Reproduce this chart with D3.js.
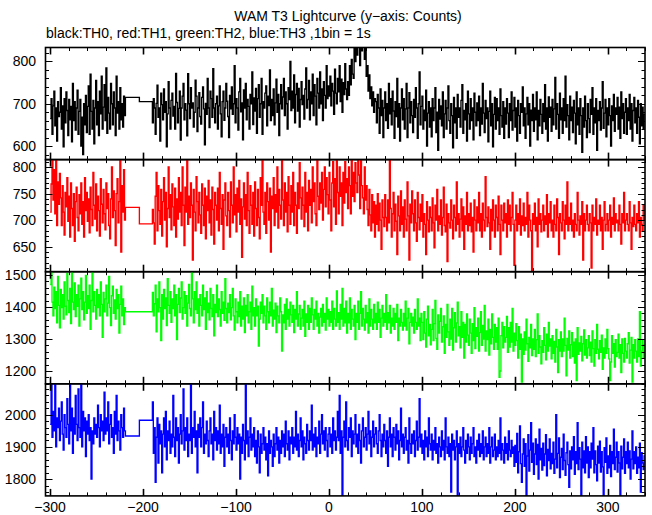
<!DOCTYPE html>
<html><head><meta charset="utf-8">
<script src="https://cdn.jsdelivr.net/npm/d3@7"></script>
<style>body{margin:0;background:#fff}svg{display:block;font-family:"Liberation Sans",Arial,Helvetica,sans-serif}</style>
</head><body><svg id="c" width="652" height="515"></svg>
<script>
// time axis of the bins (1 bin = 1 s), plus the two long bins inside the data gap
const startA = -300;
const gapStarts = [-219, -204];
const startB = -190;
const xTickValues = [-300, -200, -100, 0, 100, 200, 300];
const xTickLabels = ["\u2212300", "\u2212200", "\u2212100", "0", "100", "200", "300"];

// TH0 (black)
const th0A = [665,712,628,695,730,648,690,612,705,670,
680,738,640,695,598,712,655,728,684,625,
710,662,694,610,748,660,705,638,690,732,
628,682,710,600,668,580,700,650,720,632,
694,742,628,770,682,640,708,605,690,755,
650,705,625,730,676,765,640,692,745,660,
785,630,715,678,640,748,700,650,728,690,
625,765,678,705,640,738,662,700,645,718,672];
const th0Gap = [715, 705];
const th0B = [655,712,690,628,701,744,668,690,612,725,
698,662,735,680,705,598,676,752,690,640,
708,725,671,694,640,772,703,655,689,730,
614,690,718,748,662,700,685,624,771,700,
665,738,690,702,645,680,756,718,634,690,
726,670,652,715,740,688,603,701,675,760,
690,644,730,712,668,783,690,655,700,718,
640,695,742,676,622,705,730,661,690,748,
706,670,620,720,688,740,675,700,790,655,
712,690,638,728,760,681,702,615,733,690,
748,662,710,694,640,722,700,775,651,714,
683,736,630,712,745,668,700,760,628,705,
690,725,742,648,718,696,780,660,710,672,
735,650,702,758,680,722,625,700,745,688,
716,760,672,728,700,640,738,710,800,684,
730,690,768,655,722,748,683,736,645,710,
752,698,720,664,735,785,690,710,755,662,
728,700,770,672,745,718,650,760,725,690,
775,700,735,660,752,720,690,790,712,742,
718,765,695,748,730,675,782,725,700,760,
728,790,705,758,680,750,722,795,735,710,
752,720,790,745,805,770,760,840,800,860,
815,870,835,790,860,825,880,840,805,830,
765,790,730,768,712,740,695,728,680,712,
705,655,722,690,630,735,672,708,620,690,
728,660,700,642,748,676,712,650,730,683,
618,705,670,760,645,700,612,690,735,662,
712,640,688,748,620,690,726,655,705,672,
632,710,668,738,690,618,700,775,650,694,
718,640,685,660,732,600,678,705,645,690,
622,712,660,690,738,632,680,590,710,664,
695,648,728,620,676,708,640,690,742,660,
630,700,672,596,715,655,690,618,722,668,
690,645,708,745,630,684,662,700,612,730,
676,640,712,660,690,615,725,680,648,702,
660,718,625,690,652,748,678,632,708,665,
690,610,682,730,648,700,598,675,715,640,
712,660,690,628,735,672,645,705,618,690,
652,712,678,620,700,660,728,638,684,715,
645,690,612,708,672,630,700,680,740,648,
690,618,676,715,650,700,600,685,660,722,
635,690,662,728,615,684,648,710,675,630,
700,658,745,640,690,612,716,668,692,635,
710,650,688,762,640,700,675,618,725,662,
690,630,712,660,765,645,698,672,615,718,
660,692,632,708,678,605,728,650,690,628,
712,672,585,690,645,718,660,620,700,665,
632,710,675,738,628,690,655,712,590,684,
660,705,638,690,752,642,678,710,622,690,
650,712,672,600,695,660,722,635,690,675,
715,640,692,618,728,665,700,630,680,712,
628,690,660,722,640,700,612,684,715,655,
690,630,708,668,605,700,648,692,640,675];

// TH1 (red)
const th1A = [715,768,814,738,795,712,814,690,772,730,
788,742,690,765,715,672,752,725,780,698,
745,668,770,722,690,750,660,735,762,705,
680,748,712,770,692,735,668,780,718,752,
698,740,676,762,720,690,790,728,702,768,
680,745,718,670,778,730,695,758,712,682,
770,722,750,690,665,740,800,705,755,718,
652,750,778,695,735,814,640,765,715,795,700];
const th1Gap = [724, 693];
const th1B = [720,695,655,745,790,680,765,718,692,758,
670,735,780,700,752,650,722,800,705,748,
682,768,725,690,760,668,740,702,780,715,
752,690,800,728,652,762,715,814,692,745,
705,770,728,625,758,715,680,782,735,695,
752,710,675,768,728,690,760,665,745,718,
775,695,738,672,762,720,655,752,728,700,
760,680,790,722,692,748,645,738,770,708,
690,752,718,668,772,728,695,800,710,748,
678,760,715,775,692,740,630,725,770,702,
748,690,790,718,675,765,728,692,752,670,
772,722,690,758,705,665,780,728,814,715,
692,752,675,770,735,700,760,640,745,722,
780,690,748,715,800,685,758,728,702,814,
738,690,770,715,752,678,782,728,692,765,
715,790,690,752,728,675,770,722,808,742,
702,762,728,688,790,715,752,680,775,728,
758,695,800,735,770,712,690,814,745,720,
770,732,790,700,758,800,725,780,748,712,
790,738,680,770,810,725,778,692,814,752,
712,800,745,770,690,790,732,810,752,778,
722,800,765,712,814,745,790,735,808,770,
752,814,785,722,814,765,742,712,800,738,
765,720,690,758,710,680,748,695,735,668,
728,692,750,680,732,700,645,738,705,688,
748,705,680,738,695,814,722,668,712,752,
680,730,698,635,745,708,680,755,692,725,
668,738,702,680,772,708,625,730,695,755,
712,680,738,695,660,752,705,682,730,698,
748,668,712,692,635,735,700,678,725,705,
680,742,695,648,728,700,758,680,708,692,
738,672,705,762,690,678,730,622,712,695,
685,738,700,665,728,705,680,772,692,712,
668,702,740,680,725,645,708,692,752,680,
712,690,732,678,705,640,738,700,680,725,
695,752,680,712,668,732,700,680,782,705,
688,725,695,645,720,680,738,700,668,728,
705,680,745,692,635,728,700,680,732,695,
712,668,738,692,728,680,705,752,692,615,
700,728,680,712,692,740,672,708,690,732,
680,705,692,752,668,728,700,680,605,712,
692,732,680,705,650,740,692,712,678,700,
728,680,708,692,748,668,712,695,735,680,
700,668,728,692,680,740,705,635,712,695,
680,735,700,665,728,692,772,680,705,692,
732,680,700,668,712,692,680,752,700,672,
708,692,735,625,712,680,700,728,692,680,
712,695,610,728,680,705,692,740,672,700,
692,728,680,705,645,700,735,680,692,712,
680,700,728,668,705,692,742,680,712,695,
700,680,728,692,655,712,695,752,680,700,
712,692,680,735,695,645,705,688,728,692,
680,712,695,735,668,705,692,680,728,700];

// TH2 (green)
const th2A = [1470,1510,1415,1372,1462,1395,1448,1350,1495,1405,
1335,1455,1398,1438,1362,1478,1402,1375,1505,1420,
1382,1458,1348,1510,1415,1392,1475,1370,1438,1402,
1468,1340,1425,1490,1392,1448,1360,1415,1498,1380,
1435,1395,1468,1330,1420,1510,1385,1448,1405,1362,
1455,1398,1438,1372,1478,1408,1305,1445,1385,1425,
1468,1372,1412,1495,1398,1342,1435,1465,1380,1422,
1362,1455,1395,1438,1318,1408,1465,1372,1425,1345,1398];
const th2Gap = [1385, 1385];
const th2B = [1445,1372,1410,1468,1322,1425,1385,1478,1398,1295,
1438,1362,1455,1395,1428,1342,1488,1405,1380,1448,
1352,1425,1395,1468,1372,1438,1298,1408,1458,1382,
1428,1478,1362,1398,1448,1380,1435,1340,1412,1470,
1395,1372,1510,1425,1350,1448,1392,1478,1380,1425,
1340,1438,1405,1372,1468,1392,1428,1330,1448,1382,
1412,1360,1458,1395,1370,1438,1310,1408,1382,1468,
1370,1425,1392,1340,1448,1380,1415,1358,1488,1395,
1350,1412,1382,1438,1360,1398,1458,1372,1328,1425,
1385,1350,1415,1370,1448,1340,1402,1362,1428,1320,
1405,1372,1438,1350,1385,1415,1330,1465,1372,1398,
1340,1425,1372,1402,1278,1362,1415,1380,1438,1350,
1402,1372,1330,1428,1385,1350,1415,1372,1458,1340,
1390,1362,1412,1320,1402,1372,1350,1428,1385,1262,
1375,1350,1408,1330,1425,1362,1392,1340,1415,1375,
1352,1405,1320,1392,1362,1448,1340,1378,1405,1330,
1365,1392,1340,1418,1308,1378,1352,1405,1330,1395,
1352,1428,1375,1330,1392,1362,1418,1340,1380,1318,
1368,1395,1340,1408,1352,1380,1328,1428,1362,1392,
1340,1385,1352,1418,1330,1395,1362,1340,1450,1352,
1382,1330,1408,1362,1458,1340,1395,1350,1418,1318,
1380,1350,1428,1330,1392,1362,1340,1405,1298,1380,
1352,1418,1330,1380,1448,1340,1395,1362,1328,1405,
1350,1382,1318,1425,1340,1392,1362,1330,1408,1350,
1380,1330,1415,1352,1392,1305,1365,1405,1340,1380,
1352,1438,1330,1382,1350,1405,1318,1365,1340,1395,
1330,1380,1352,1408,1295,1365,1340,1392,1352,1328,
1380,1340,1418,1328,1365,1395,1285,1352,1380,1340,
1368,1318,1392,1352,1330,1425,1340,1365,1295,1380,
1352,1298,1385,1318,1275,1362,1402,1310,1345,1282,
1330,1392,1295,1348,1420,1302,1268,1375,1318,1355,
1395,1290,1338,1372,1255,1345,1305,1408,1322,1280,
1362,1300,1395,1265,1335,1382,1290,1350,1415,1310,
1338,1272,1385,1305,1352,1240,1345,1290,1378,1312,
1280,1362,1318,1255,1348,1295,1398,1270,1335,1308,
1365,1262,1320,1385,1280,1342,1300,1405,1262,1325,
1298,1362,1250,1330,1285,1378,1305,1268,1345,1290,
1335,1268,1365,1180,1200,1310,1352,1272,1338,1290,
1305,1370,1258,1335,1275,1352,1290,1395,1262,1318,
1280,1348,1295,1240,1338,1268,1315,1165,1300,1252,
1322,1265,1362,1285,1230,1305,1272,1345,1248,1300,
1268,1330,1245,1298,1378,1255,1310,1275,1222,1295,
1258,1335,1280,1235,1315,1262,1352,1278,1300,1238,
1310,1255,1292,1228,1330,1275,1195,1298,1262,1322,
1245,1300,1262,1365,1280,1185,1302,1265,1325,1240,
1282,1320,1245,1290,1225,1300,1170,1335,1252,1288,
1262,1308,1232,1285,1328,1250,1298,1240,1272,1310,
1248,1290,1228,1325,1270,1215,1298,1255,1345,1268,
1238,1295,1258,1312,1205,1272,1240,1300,1255,1330,
1270,1238,1170,1228,1310,1255,1285,1212,1298,1245,
1258,1315,1240,1282,1195,1300,1255,1228,1302,1262,
1240,1285,1320,1225,1265,1305,1165,1282,1240,1298,
1262,1228,1300,1245,1385,1215,1262,1298,1240,1282];

// TH3 (blue)
const th3A = [1970,2096,1930,2010,1950,2096,1900,1990,1960,2020,
1920,1980,2040,1940,1890,2000,1960,1930,2050,1970,
1910,2096,1950,2020,1880,1990,1940,2060,1970,1920,
2080,1960,1930,2096,1900,2010,1950,1990,1870,1980,
1940,2000,1920,1960,1800,1950,1910,1990,1940,1970,
1930,2030,1960,1900,2000,1950,1980,1920,2070,1940,
1990,1950,2040,1910,1970,2000,1930,1960,1880,2010,
1940,2060,1920,1980,1950,1890,2000,1960,1930,2020,1950];
const th3Gap = [1934, 1983];
const th3B = [2040,1880,1960,1790,1930,1990,1850,1970,1910,1950,
1820,1940,1990,1900,2010,1860,1950,1920,1980,1880,
1940,1900,2060,1930,1870,1990,1920,1960,1850,1940,
2000,1910,1950,2080,1890,1960,1920,1990,1870,1940,
1920,2096,1880,1960,1930,2010,1900,1950,1820,1970,
1930,1990,1900,1960,2040,1880,1940,1910,1980,1920,
1870,1950,1990,1910,1940,1860,2010,1920,1960,1890,
1950,1910,2030,1880,1940,1900,1970,1840,1930,1960,
1900,1940,1880,1990,1920,1860,1950,1910,2000,1930,
1890,1960,1910,1940,1800,1930,1880,1970,1920,1860,
2096,1910,1950,1870,1930,1990,1890,1940,1900,1960,
1870,1920,1850,1950,1900,1820,1940,1880,1910,1960,
1890,1930,1860,1910,1810,1950,1880,1920,1900,1840,
1940,1870,1910,1960,1890,1930,1850,1920,1880,1950,
1900,1940,1870,1980,1910,1890,1950,1860,1930,1910,
1960,1880,1930,1900,2010,1890,1940,1870,1920,1990,
1900,1950,1860,1930,1910,1880,1970,1920,1890,1950,
1920,2030,1890,1940,1900,1960,1870,1930,1910,1980,
1880,1940,2000,1910,1950,1890,1960,1920,1870,1940,
1960,1900,1940,1880,1990,1920,1950,1890,1930,2010,
1920,2060,1880,1950,1750,1930,1980,1900,2040,1920,
1890,1960,1930,1990,1870,1950,1910,1940,2000,1900,
1940,1880,1970,1920,1850,1950,1990,1900,1930,1960,
1890,1940,2010,1910,1950,1870,1930,1980,1900,1940,
1960,1910,1880,1950,2000,1920,1870,1940,1900,1970,
1920,1880,1950,1840,1930,1990,1900,1940,1870,1960,
1930,1890,1970,1910,1950,1860,1920,2020,1900,1940,
1880,1930,1960,1890,1920,1850,1990,1910,1880,1940,
1910,1950,1870,1920,1980,1890,1930,2050,1900,1940,
1880,1920,1860,1950,1900,1930,1870,1990,1910,1890,
1940,1860,1920,1890,1960,1880,1910,1850,1930,1900,
1870,1950,1890,1920,1860,1990,1900,1880,1930,1870,
1910,1760,1940,1890,1920,1860,1900,1950,1750,1910,
1880,1930,1870,1900,1960,1890,1850,1920,1880,1940,
1900,1860,1930,1880,1910,1960,1870,1900,1850,1920,
1890,1940,1870,1910,1880,1950,1860,1900,1930,1870,
1910,1880,1960,1850,1900,1930,1870,1890,1940,1860,
1900,1870,1920,1880,1990,1860,1910,1890,1850,1930,
1880,1910,1860,1950,1890,1870,1920,1880,1900,1840,
1905,1852,1942,1820,1885,1965,1848,1790,1878,1925,
1840,1910,1750,1872,1938,1825,1890,1975,1852,1912,
1815,1878,1925,1845,1908,1800,1955,1860,1895,1828,
1912,1842,1878,1938,1810,1892,1858,1925,1832,1880,
1848,1915,1818,1862,2000,1835,1880,1928,1805,1868,
1895,1830,1940,1858,1812,1882,1915,1845,1775,1888,
1832,1900,1860,1932,1815,1885,1848,1975,1830,1898,
1862,1750,1915,1835,1888,1820,1932,1850,1900,1805,
1885,1835,1912,1862,1960,1820,1888,1845,1795,1902,
1850,1918,1822,1885,1838,1750,1898,1852,1928,1818,
1872,1835,1905,1808,1885,1848,1955,1830,1868,1915,
1822,1885,1850,1750,1902,1832,1868,1925,1818,1885,
1848,1915,1835,1888,1800,1862,1950,1832,1885,1848,
1900,1818,1868,1835,1912,1760,1882,1850,1830,1872];

const yTicks0 = [600, 700, 800];
const yTicks1 = [650, 700, 750, 800];
const yTicks2 = [1200, 1300, 1400, 1500];
const yTicks3 = [1800, 1900, 2000];

const titleText = "WAM T3 Lightcurve (y\u2212axis: Counts)";
const subtitleText = "black:TH0, red:TH1, green:TH2, blue:TH3 ,1bin = 1s";

// ---------- layout ----------
const svg = d3.select("#c");
const left = 45.5, right = 645, top0 = 47.5, ph = 112.1;
const x = d3.scaleLinear().domain([-305, 340]).range([left, right]);

const panels = [
  {A: th0A, G: th0Gap, B: th0B, color: "#000000", dom: [568, 833], major: yTicks0, minor: 20},
  {A: th1A, G: th1Gap, B: th1B, color: "#ff0000", dom: [603, 814], major: yTicks1, minor: 10},
  {A: th2A, G: th2Gap, B: th2B, color: "#00ff00", dom: [1160, 1510], major: yTicks2, minor: 20},
  {A: th3A, G: th3Gap, B: th3B, color: "#0000ff", dom: [1748, 2096], major: yTicks3, minor: 20}
];

function buildSeries(p) {
  const pts = [];
  p.A.forEach((v, i) => pts.push([startA + i, v]));
  p.G.forEach((v, i) => pts.push([gapStarts[i], v]));
  p.B.forEach((v, i) => pts.push([startB + i, v]));
  pts.push([startB + p.B.length, p.B[p.B.length - 1]]);
  return pts;
}

const defs = svg.append("defs");
const xMinor = d3.range(-300, 341, 20);

panels.forEach((p, k) => {
  const y0 = top0 + k * ph, y1 = y0 + ph;
  const y = d3.scaleLinear().domain(p.dom).range([y1, y0]);
  defs.append("clipPath").attr("id", "cp" + k).append("rect")
    .attr("x", left).attr("y", y0).attr("width", right - left).attr("height", ph);

  const line = d3.line().x(d => x(d[0])).y(d => y(d[1])).curve(d3.curveStepAfter);
  svg.append("path").datum(buildSeries(p))
    .attr("clip-path", "url(#cp" + k + ")")
    .attr("fill", "none").attr("stroke", p.color).attr("stroke-width", 1.35)
    .attr("d", line);

  const g = svg.append("g").attr("stroke", "#000").attr("fill", "none");
  const yMin = d3.range(Math.ceil(p.dom[0] / p.minor) * p.minor, p.dom[1] + 0.01, p.minor);
  yMin.forEach(v => {
    const isMaj = p.major.includes(v);
    const len = isMaj ? 7 : 3.5;
    const yy = Math.round(y(v)) + 0.5;
    g.append("line").attr("x1", left).attr("x2", left + len).attr("y1", yy).attr("y2", yy).attr("stroke-width", 1);
    g.append("line").attr("x1", right).attr("x2", right - len).attr("y1", yy).attr("y2", yy).attr("stroke-width", 1);
  });
  xMinor.forEach(v => {
    const isMaj = xTickValues.includes(v);
    const len = isMaj ? 7 : 3.5;
    const xx = Math.round(x(v)) + 0.5;
    const sw = isMaj ? 1.6 : 1;
    g.append("line").attr("x1", xx).attr("x2", xx).attr("y1", y0).attr("y2", y0 + len).attr("stroke-width", sw);
    g.append("line").attr("x1", xx).attr("x2", xx).attr("y1", y1).attr("y2", y1 - len).attr("stroke-width", sw);
  });
  g.append("rect").attr("x", left).attr("y", y0).attr("width", right - left).attr("height", ph).attr("stroke-width", 1.6);

  svg.append("g").selectAll("text").data(p.major).join("text")
    .attr("x", 36).attr("y", d => y(d)).attr("dy", "0.36em")
    .attr("text-anchor", "end").attr("font-size", 14).attr("fill", "#000")
    .text(d => d);
});

svg.append("g").selectAll("text").data(xTickValues).join("text")
  .attr("x", d => x(d)).attr("y", 512)
  .attr("text-anchor", "middle").attr("font-size", 14).attr("fill", "#000")
  .text((d, i) => xTickLabels[i]);

svg.append("text").attr("x", 348).attr("y", 21).attr("text-anchor", "middle")
  .attr("font-size", 14).attr("fill", "#000").text(titleText);
svg.append("text").attr("x", 46).attr("y", 38).attr("text-anchor", "start")
  .attr("font-size", 14).attr("fill", "#000").text(subtitleText);
</script>
</body></html>
